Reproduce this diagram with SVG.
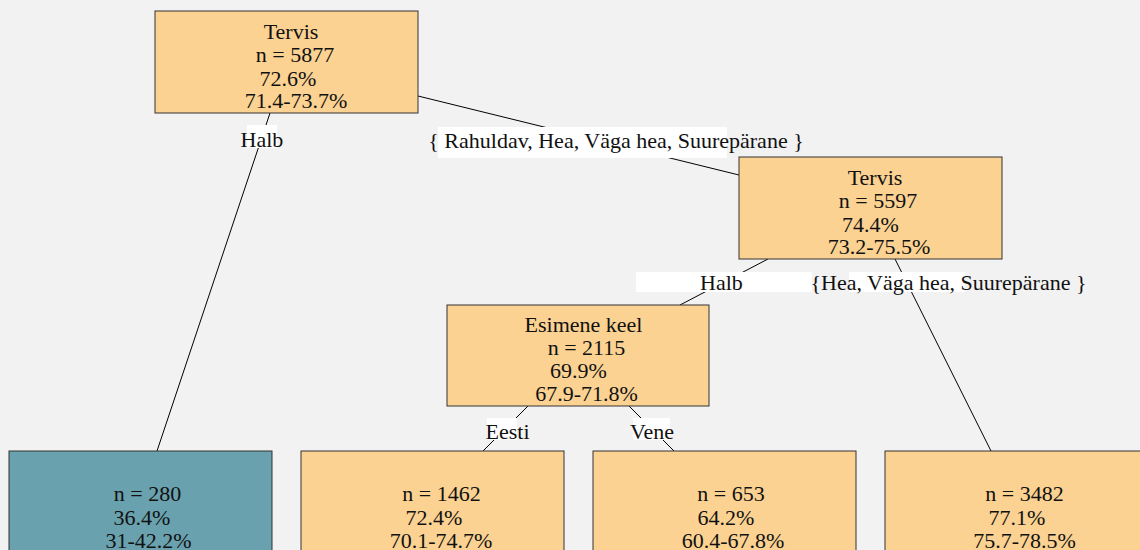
<svg xmlns="http://www.w3.org/2000/svg" width="1140" height="550" viewBox="0 0 1140 550">
<style>
.bg{fill:#f2f2f2}
.node{fill:#fbd291;stroke:#333;stroke-width:1}
.leafc{fill:#69a1ae;stroke:#333;stroke-width:1}
.edge{stroke:#000;stroke-width:1;fill:none}
.lbg{fill:#fff}
text{font-family:"Liberation Serif","Times New Roman",serif;font-size:22px;fill:#111;text-anchor:middle}
</style>
<rect class="bg" x="0" y="0" width="1140" height="550"/>
<g id="connectors">
<line class="edge" x1="270" y1="113" x2="157" y2="451"/>
<line class="edge" x1="418" y1="96" x2="739" y2="175"/>
<line class="edge" x1="768" y1="259" x2="680" y2="305"/>
<line class="edge" x1="895" y1="259" x2="991" y2="451"/>
<line class="edge" x1="528" y1="406" x2="483" y2="451"/>
<line class="edge" x1="629" y1="406" x2="674" y2="451"/>
<rect class="lbg" x="247" y="125" width="30" height="23"/>
<text x="262" y="147">Halb</text>
<rect class="lbg" x="438" y="127" width="289" height="31"/>
<text x="616" y="148">{ Rahuldav, Hea, Väga hea, Suurepärane }</text>
<rect class="lbg" x="636" y="272" width="176" height="20"/>
<text x="721.5" y="290">Halb</text>
<rect class="lbg" x="849" y="272" width="116" height="20"/>
<text x="948.5" y="290">{Hea, Väga hea, Suurepärane }</text>
<rect class="lbg" x="487" y="418" width="30" height="22"/>
<text x="507.5" y="439">Eesti</text>
<rect class="lbg" x="633" y="418" width="37" height="22"/>
<text x="652" y="439">Vene</text>
</g>
<g id="node1">
<rect class="node" x="155" y="11" width="263" height="102"/>
<text x="291" y="39">Tervis</text>
<text x="295" y="62">n = 5877</text>
<text x="288" y="86">72.6%</text>
<text x="296" y="108">71.4-73.7%</text>
</g>
<g id="node2">
<rect class="node" x="739" y="157" width="263" height="102"/>
<text x="875" y="185">Tervis</text>
<text x="878" y="208">n = 5597</text>
<text x="870.5" y="232">74.4%</text>
<text x="879" y="254">73.2-75.5%</text>
</g>
<g id="node3">
<rect class="node" x="447" y="305" width="262" height="101"/>
<text x="583.5" y="332">Esimene keel</text>
<text x="586.5" y="355">n = 2115</text>
<text x="578.5" y="378">69.9%</text>
<text x="586.5" y="401">67.9-71.8%</text>
</g>
<g id="leaf1">
<rect class="leafc" x="9" y="451" width="263" height="110"/>
<text x="147.5" y="501">n = 280</text>
<text x="142" y="525">36.4%</text>
<text x="148.5" y="548">31-42.2%</text>
</g>
<g id="leaf2">
<rect class="node" x="301" y="451" width="263" height="110"/>
<text x="441.5" y="501">n = 1462</text>
<text x="434" y="525">72.4%</text>
<text x="441" y="548">70.1-74.7%</text>
</g>
<g id="leaf3">
<rect class="node" x="593" y="451" width="263" height="110"/>
<text x="731" y="501">n = 653</text>
<text x="726" y="525">64.2%</text>
<text x="733" y="548">60.4-67.8%</text>
</g>
<g id="leaf4">
<rect class="node" x="885" y="451" width="263" height="110"/>
<text x="1024.5" y="501">n = 3482</text>
<text x="1017" y="525">77.1%</text>
<text x="1024.5" y="548">75.7-78.5%</text>
</g>
</svg>
